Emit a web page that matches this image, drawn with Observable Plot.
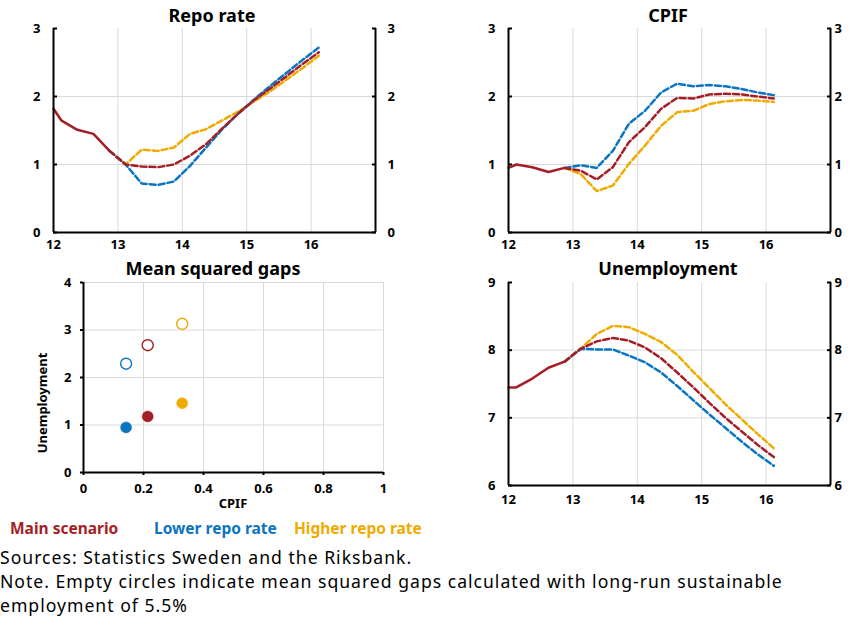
<!DOCTYPE html>
<html>
<head>
<meta charset="utf-8">
<script src="https://cdn.jsdelivr.net/npm/d3@7"></script>
<script src="https://cdn.jsdelivr.net/npm/@observablehq/plot@0.6"></script>
<style>
  body { margin: 0; background: #fff; font-family: "Noto Sans", sans-serif; }
  #root { position: relative; width: 852px; height: 626px; overflow: hidden; background: #fff; }
  .panel { position: absolute; }
  .title { position: absolute; font-weight: bold; font-size: 18px; transform: translate(-50%, -50%); white-space: nowrap; color: #000; }
  .axlabel { position: absolute; font-weight: bold; font-size: 13px; white-space: nowrap; color: #000; }
  .legend { position: absolute; font-weight: bold; font-size: 15.5px; white-space: nowrap; }
  .note { position: absolute; left: 0px; font-size: 17.6px; line-height: 24px; height: 24px; color: #000; letter-spacing: 1px; white-space: nowrap; }
</style>
</head>
<body>
<div id="root"></div>
<script>
// ---------- data ----------
const colors = { main: "#a51e25", lower: "#0a75c2", higher: "#f0aa00" };
const seriesNames = ["Main scenario", "Lower repo rate", "Higher repo rate"];

const histX = [12.0, 12.12, 12.37, 12.62, 12.87];
const fcX = [12.87, 13.12, 13.37, 13.62, 13.87, 14.12, 14.37, 14.62, 14.87, 15.12, 15.37, 15.62, 15.87, 16.12];

const repoHist = [1.82, 1.65, 1.51, 1.45, 1.2];
const repoMain = [1.2, 1.0, 0.97, 0.96, 1.0, 1.13, 1.30, 1.53, 1.75, 1.95, 2.12, 2.30, 2.48, 2.65];
const repoLower = [1.2, 1.0, 0.72, 0.70, 0.75, 0.98, 1.25, 1.52, 1.75, 1.96, 2.16, 2.35, 2.54, 2.72];
const repoHigher = [1.2, 1.0, 1.22, 1.20, 1.25, 1.45, 1.52, 1.65, 1.78, 1.93, 2.08, 2.25, 2.42, 2.60];

const cpifHist = [0.95, 1.0, 0.96, 0.89, 0.95];
const cpifMain = [0.95, 0.91, 0.78, 0.96, 1.33, 1.55, 1.82, 1.98, 1.97, 2.03, 2.04, 2.03, 2.0, 1.97];
const cpifLower = [0.95, 0.99, 0.95, 1.20, 1.60, 1.79, 2.06, 2.19, 2.15, 2.17, 2.15, 2.11, 2.06, 2.02];
const cpifHigher = [0.95, 0.86, 0.61, 0.69, 1.01, 1.28, 1.57, 1.77, 1.79, 1.89, 1.93, 1.95, 1.94, 1.92];

const unempHist = [7.45, 7.45, 7.58, 7.74, 7.83];
const unempMain = [7.83, 8.02, 8.13, 8.18, 8.14, 8.04, 7.88, 7.67, 7.45, 7.22, 7.0, 6.8, 6.6, 6.42];
const unempLower = [7.83, 8.02, 8.01, 8.01, 7.92, 7.82, 7.67, 7.47, 7.26, 7.05, 6.85, 6.65, 6.46, 6.29];
const unempHigher = [7.83, 8.02, 8.24, 8.36, 8.34, 8.24, 8.12, 7.93, 7.68, 7.44, 7.2, 6.98, 6.76, 6.55];

// Mean squared gaps (order: main, lower, higher)
const gapCPIF = [0.214, 0.142, 0.329];
const gapUnemp = [1.18, 0.95, 1.46];
const gapUnempLR = [2.68, 2.29, 3.13];

const yearTicks = [12, 13, 14, 15, 16];
const yearDomain = [12, 17];
const rateTicks = [0, 1, 2, 3];
const unempTicks = [6, 7, 8, 9];
const gapXTicks = [0, 0.2, 0.4, 0.6, 0.8, 1];
const gapYTicks = [0, 1, 2, 3, 4];

const noteLines = [
  "Sources: Statistics Sweden and the Riksbank.",
  "Note. Empty circles indicate mean squared gaps calculated with long-run sustainable",
  "employment of 5.5%"
];

// ---------- helpers ----------
const root = document.getElementById("root");
const axisFont = { fontFamily: "Noto Sans", fontSize: "13px", fontWeight: "bold", color: "#000", background: "transparent" };
const fmt = d => String(d);

function toRows(xs, ys) { return xs.map((x, i) => ({ x, y: ys[i] })); }

function place(el, left, top) {
  const d = document.createElement("div");
  d.className = "panel";
  d.style.left = left + "px";
  d.style.top = top + "px";
  d.appendChild(el);
  root.appendChild(d);
}
function addText(cls, text, left, top, color) {
  const d = document.createElement("div");
  d.className = cls;
  d.textContent = text;
  d.style.left = left + "px";
  d.style.top = top + "px";
  if (color) d.style.color = color;
  root.appendChild(d);
  return d;
}

function tsPanel(cfg) {
  const { hist, main, lower, higher, yDomain, yTicks, width, height, margins, rightPad, leftPad, xPad } = cfg;
  const gridY = yTicks.filter(t => t !== yDomain[0] && t !== yDomain[1]);
  const gridX = yearTicks.filter(t => t !== yearDomain[0]);
  return Plot.plot({
    width, height,
    marginLeft: margins[0], marginRight: margins[1], marginTop: margins[2], marginBottom: margins[3],
    style: axisFont,
    x: { domain: yearDomain, label: null },
    y: { domain: yDomain, label: null },
    marks: [
      Plot.gridX(gridX, { stroke: "#d9d9d9", strokeOpacity: 1, strokeWidth: 1 }),
      Plot.gridY(gridY, { stroke: "#d9d9d9", strokeOpacity: 1, strokeWidth: 1 }),
      Plot.axisX(yearTicks, { tickSize: 0, tickPadding: xPad, tickFormat: fmt, label: null }),
      Plot.axisY(yTicks, { anchor: "left", tickSize: -4, tickPadding: leftPad + 4, strokeWidth: 2, tickFormat: fmt, label: null }),
      Plot.axisY(yTicks, { anchor: "right", tickSize: -4, tickPadding: rightPad + 4, strokeWidth: 2, tickFormat: fmt, label: null }),
      Plot.line(toRows(fcX, higher), { x: "x", y: "y", stroke: colors.higher, strokeWidth: 2.5, strokeDasharray: "6,3" }),
      Plot.line(toRows(fcX, lower), { x: "x", y: "y", stroke: colors.lower, strokeWidth: 2.5, strokeDasharray: "6,3" }),
      Plot.line(toRows(fcX, main), { x: "x", y: "y", stroke: colors.main, strokeWidth: 2.5, strokeDasharray: "6,3" }),
      Plot.line(toRows(histX, hist), { x: "x", y: "y", stroke: colors.main, strokeWidth: 2.5 }),
      Plot.ruleX(yearDomain, { stroke: "#000", strokeWidth: 2 }),
      Plot.ruleY([yDomain[0]], { stroke: "#000", strokeWidth: 2 })
    ]
  });
}

// ---------- panels ----------
place(tsPanel({
  hist: repoHist, main: repoMain, lower: repoLower, higher: repoHigher,
  yDomain: [0, 3], yTicks: rateTicks, width: 426, height: 255,
  margins: [53, 51, 28, 23], leftPad: 13, rightPad: 12, xPad: 7
}), 0, 0);

place(tsPanel({
  hist: cpifHist, main: cpifMain, lower: cpifLower, higher: cpifHigher,
  yDomain: [0, 3], yTicks: rateTicks, width: 426, height: 255,
  margins: [82, 22, 28, 23], leftPad: 13, rightPad: 4, xPad: 7
}), 426, 0);

place(tsPanel({
  hist: unempHist, main: unempMain, lower: unempLower, higher: unempHigher,
  yDomain: [6, 9], yTicks: unempTicks, width: 426, height: 265,
  margins: [82, 22, 27, 35], leftPad: 13, rightPad: 4, xPad: 9
}), 426, 255);

// scatter panel
const gapRows = gapCPIF.map((c, i) => ({ name: seriesNames[i], cpif: c, u: gapUnemp[i], uLR: gapUnempLR[i] }));
const colorList = [colors.main, colors.lower, colors.higher];
place(Plot.plot({
  width: 426, height: 265,
  marginLeft: 83, marginRight: 43, marginTop: 27, marginBottom: 48,
  style: axisFont,
  x: { domain: [0, 1], label: null },
  y: { domain: [0, 4], label: null },
  color: { domain: seriesNames, range: colorList },
  marks: [
    Plot.gridX(gapXTicks.slice(1), { stroke: "#d9d9d9", strokeOpacity: 1 }),
    Plot.gridY(gapYTicks.slice(1), { stroke: "#d9d9d9", strokeOpacity: 1 }),
    Plot.axisX(gapXTicks, { tickSize: 3, tickPadding: 8, strokeWidth: 2, tickFormat: fmt, label: null }),
    Plot.axisY(gapYTicks, { anchor: "left", tickSize: 3, tickPadding: 9, strokeWidth: 2, tickFormat: fmt, label: null }),
    Plot.ruleX([0], { stroke: "#000", strokeWidth: 2 }),
    Plot.ruleY([0], { stroke: "#000", strokeWidth: 2 }),
    Plot.dot(gapRows, { x: "cpif", y: "uLR", stroke: "name", fill: "#fff", r: 5.5, strokeWidth: 1.4 }),
    Plot.dot(gapRows, { x: "cpif", y: "u", fill: "name", stroke: "name", r: 5.5, strokeWidth: 0.5 })
  ]
}), 0, 255);

// ---------- text ----------
addText("title", "Repo rate", 212, 15);
addText("title", "CPIF", 668, 15);
addText("title", "Mean squared gaps", 213, 268);
addText("title", "Unemployment", 668, 268);

const xl = addText("axlabel", "CPIF", 233, 503);
xl.style.transform = "translate(-50%, -50%)";
const yl = addText("axlabel", "Unemployment", 42, 403);
yl.style.transform = "translate(-50%, -50%) rotate(-90deg)";

const legendX = [10, 154, 294];
const legendC = [colors.main, colors.lower, colors.higher];
seriesNames.forEach((n, i) => addText("legend", n, legendX[i], 517, legendC[i]));

const noteTops = [545, 569, 593];
noteLines.forEach((t, i) => addText("note", t, 0, noteTops[i]));
</script>
</body>
</html>
